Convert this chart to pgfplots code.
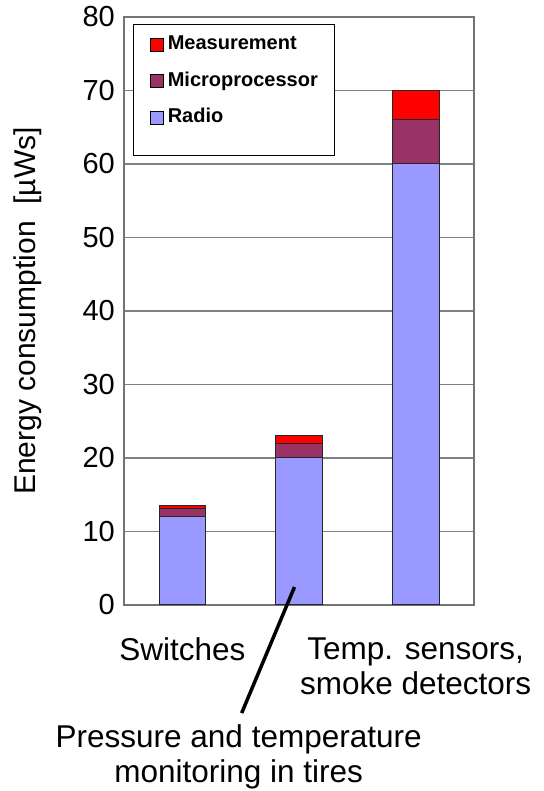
\documentclass[border=0pt]{standalone}
\usepackage{fontspec}
\setmainfont{Liberation Sans}
\usepackage{pgfplots}
\pgfplotsset{compat=1.18}
\definecolor{radio}{HTML}{9999FF}
\definecolor{micro}{HTML}{993366}
\definecolor{meas}{HTML}{FF0000}
\begin{document}
\begin{tikzpicture}
\begin{axis}[
  name=ax,
  scale only axis,
  width=350bp, height=588bp,
  xmin=-0.5, xmax=2.5,
  ymin=0, ymax=80,
  ybar stacked,
  bar width=0.4,
  xtick={0,1,2},
  xticklabels={Switches,,{Temp. sensors,\\smoke detectors}},
  ytick={0,10,...,80},
  major tick length=0pt,
  ymajorgrids,
  grid style={black!50, line width=1.1bp},
  axis line style={black!55, line width=1.2bp},
  tick label style={font=\fontsize{29bp}{34bp}\selectfont},
  /pgf/number format/assume math mode=true,
  xticklabel style={font=\fontsize{31.5bp}{35bp}\selectfont, align=center, anchor=north, yshift=-29bp},
  yticklabel style={anchor=east, inner sep=0pt, xshift=-9bp},
  ylabel={Energy consumption~~[µWs]},
  ylabel style={font=\fontsize{30bp}{34bp}\selectfont, at={(axis description cs:-0.316,0.5)}, anchor=north, inner sep=0pt, rotate=0},
  clip=false,
  legend cell align=left,
  legend image code/.code={\draw[#1] (0bp,-6.5bp) rectangle (13bp,6.5bp);},
  legend style={
    at={(axis description cs:0.0257,0.988)}, anchor=north west,
    draw=black, line width=1bp,
    font=\fontsize{20bp}{24bp}\selectfont\bfseries,
    inner xsep=16.5bp, inner ysep=10bp,
    column sep=4bp, row sep=16.5bp,
    nodes={inner sep=0pt, text height=15bp, text depth=5bp},
  },
]
\addplot+[forget plot, fill=radio, draw=black!85, line width=1bp] coordinates {(0,12) (1,20) (2,60)};
\addplot+[forget plot, fill=micro, draw=black!85, line width=1bp] coordinates {(0,1.1) (1,2) (2,6)};
\addplot+[forget plot, fill=meas, draw=black!85, line width=1bp] coordinates {(0,0.4) (1,1) (2,4)};

\addlegendimage{fill=meas, draw=black, line width=0.8bp}
\addlegendentry{Measurement}
\addlegendimage{fill=micro, draw=black, line width=0.8bp}
\addlegendentry{Microprocessor}
\addlegendimage{fill=radio, draw=black, line width=0.8bp}
\addlegendentry{Radio}
\addlegendimage{empty legend}
\addlegendentry[text height=0bp, text depth=0bp]{}

\coordinate (ptop) at (axis cs:0.9615,2.45);
\coordinate (pbot) at (axis cs:0.5085,-14.7);
\node[anchor=north, align=center, inner sep=0pt, font=\fontsize{31.5bp}{35bp}\selectfont]
  at (axis cs:0.483,-16.2) {Pressure and temperature\\monitoring in tires};
\end{axis}
\draw[black, line width=3.5bp] (ptop) -- (pbot);
\pgfresetboundingbox
\path ([shift={(-124bp,-186bp)}]ax.south west) rectangle ([shift={(69bp,17bp)}]ax.north east);
\end{tikzpicture}
\end{document}
